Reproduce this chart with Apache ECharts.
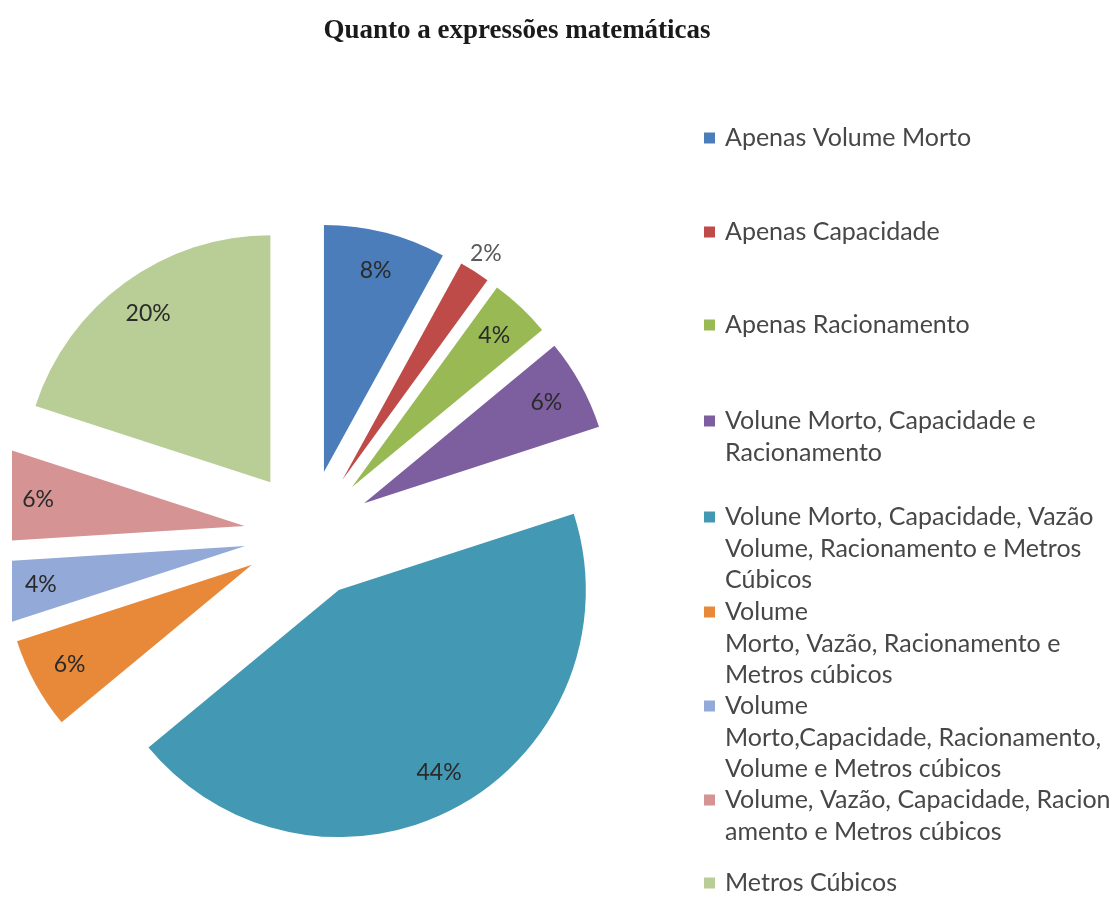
<!DOCTYPE html>
<html>
<head>
<meta charset="utf-8">
<script src="https://cdn.jsdelivr.net/npm/echarts@6/dist/echarts.min.js"></script>
<style>
  html, body { margin: 0; padding: 0; background: #ffffff; }
  #chart { position: absolute; left: 12px; top: 0; width: 1100px; height: 904px; }
</style>
</head>
<body>
<div id="chart"></div>
<script>
// ---- data ----
const categories = [
  "Apenas Volume Morto",
  "Apenas Capacidade",
  "Apenas Racionamento",
  "Volune Morto, Capacidade e Racionamento",
  "Volune Morto, Capacidade, Vazão Volume, Racionamento e Metros Cúbicos",
  "Volume Morto, Vazão, Racionamento e Metros cúbicos",
  "Volume Morto,Capacidade, Racionamento, Volume e Metros cúbicos",
  "Volume, Vazão, Capacidade, Racionamento e Metros cúbicos",
  "Metros Cúbicos"
];
const values = [8, 2, 4, 6, 44, 6, 4, 6, 20];
const legendLines = [
  ["Apenas Volume Morto"],
  ["Apenas Capacidade"],
  ["Apenas Racionamento"],
  ["Volune Morto, Capacidade e", "Racionamento"],
  ["Volune Morto, Capacidade, Vazão", "Volume, Racionamento e Metros", "Cúbicos"],
  ["Volume", "Morto, Vazão, Racionamento e", "Metros cúbicos"],
  ["Volume", "Morto,Capacidade, Racionamento,", "Volume e Metros cúbicos"],
  ["Volume, Vazão, Capacidade, Racion", "amento e Metros cúbicos"],
  ["Metros Cúbicos"]
];
const titleText = "Quanto a expressões matemáticas";

// ---- styles / layout ----
const colors = ["#4A7DBA", "#BE4B48", "#98B954", "#7D5FA0", "#4398B3", "#E8893A", "#93A9D7", "#D59393", "#B9CD97"];
const cx = 296, cy = 534, R = 247, explode = 64;
const legendFirstLineY = [138, 232, 325, 421, 517, 612, 706, 800, 883];
const L = 31.5;
const legendFont = "Lato";
const legendSize = 25;

const chart = echarts.init(document.getElementById('chart'), null, { renderer: 'canvas' });

const mainData = categories.map((n, i) => ({
  name: n, value: values[i], selected: true,
  itemStyle: { color: colors[i] }
}));
const innerLabelData = categories.map((n, i) => ({
  name: n, value: values[i], selected: true,
  label: { show: values[i] >= 3 }
}));
const outerLabelData = categories.map((n, i) => ({
  name: n, value: values[i], selected: true,
  label: { show: values[i] < 3 }
}));

// The legend text block is centred on its marker; blank lines placed before the
// text put the first text line level with the marker, as in the original.
const legends = categories.map((n, i) => {
  const N = legendLines[i].length;
  const pad = new Array(N - 1).fill(' ');
  return {
    data: [{ name: n, icon: 'rect' }],
    left: 692,
    top: legendFirstLineY[i] - (2 * N - 1) * L / 2,
    padding: 0,
    itemWidth: 11,
    itemHeight: 11,
    selectedMode: false,
    formatter: () => pad.concat(legendLines[i]).join('\n'),
    textStyle: {
      fontFamily: legendFont,
      fontSize: legendSize,
      color: '#474747',
      lineHeight: L,
      padding: [0, 0, 0, 5]
    }
  };
});

const ghostCommon = {
  type: 'pie',
  center: [cx, cy],
  selectedMode: 'multiple',
  selectedOffset: explode,
  silent: true,
  animation: false,
  itemStyle: { color: 'rgba(0,0,0,0)', borderWidth: 0 },
  emphasis: { disabled: true },
  labelLine: { show: false },
  z: 5
};

chart.setOption({
  backgroundColor: '#ffffff',
  animation: false,
  legend: legends,
  graphic: [{
    type: 'text',
    x: 505, y: 31,
    style: {
      text: titleText,
      font: 'bold 27px "Liberation Serif"',
      fill: '#1a1a1a',
      align: 'center',
      verticalAlign: 'middle'
    }
  }],
  series: [
    {
      type: 'pie',
      name: 'main',
      center: [cx, cy],
      radius: R,
      startAngle: 90,
      clockwise: true,
      selectedMode: 'multiple',
      selectedOffset: explode,
      animation: false,
      emphasis: { disabled: true },
      label: { show: false },
      labelLine: { show: false },
      itemStyle: { borderWidth: 0 },
      data: mainData
    },
    Object.assign({}, ghostCommon, {
      name: 'labelsInner',
      radius: [R * 0.66, R],
      label: {
        show: true, position: 'inside',
        formatter: '{c}%',
        fontFamily: legendFont, fontSize: 23, color: '#2a2a2a'
      },
      data: innerLabelData
    }),
    Object.assign({}, ghostCommon, {
      name: 'labelsOuter',
      radius: [R, R + 36],
      label: {
        show: true, position: 'inside',
        formatter: '{c}%',
        fontFamily: legendFont, fontSize: 23, color: '#5a5a5a'
      },
      data: outerLabelData
    })
  ]
});
</script>
</body>
</html>
